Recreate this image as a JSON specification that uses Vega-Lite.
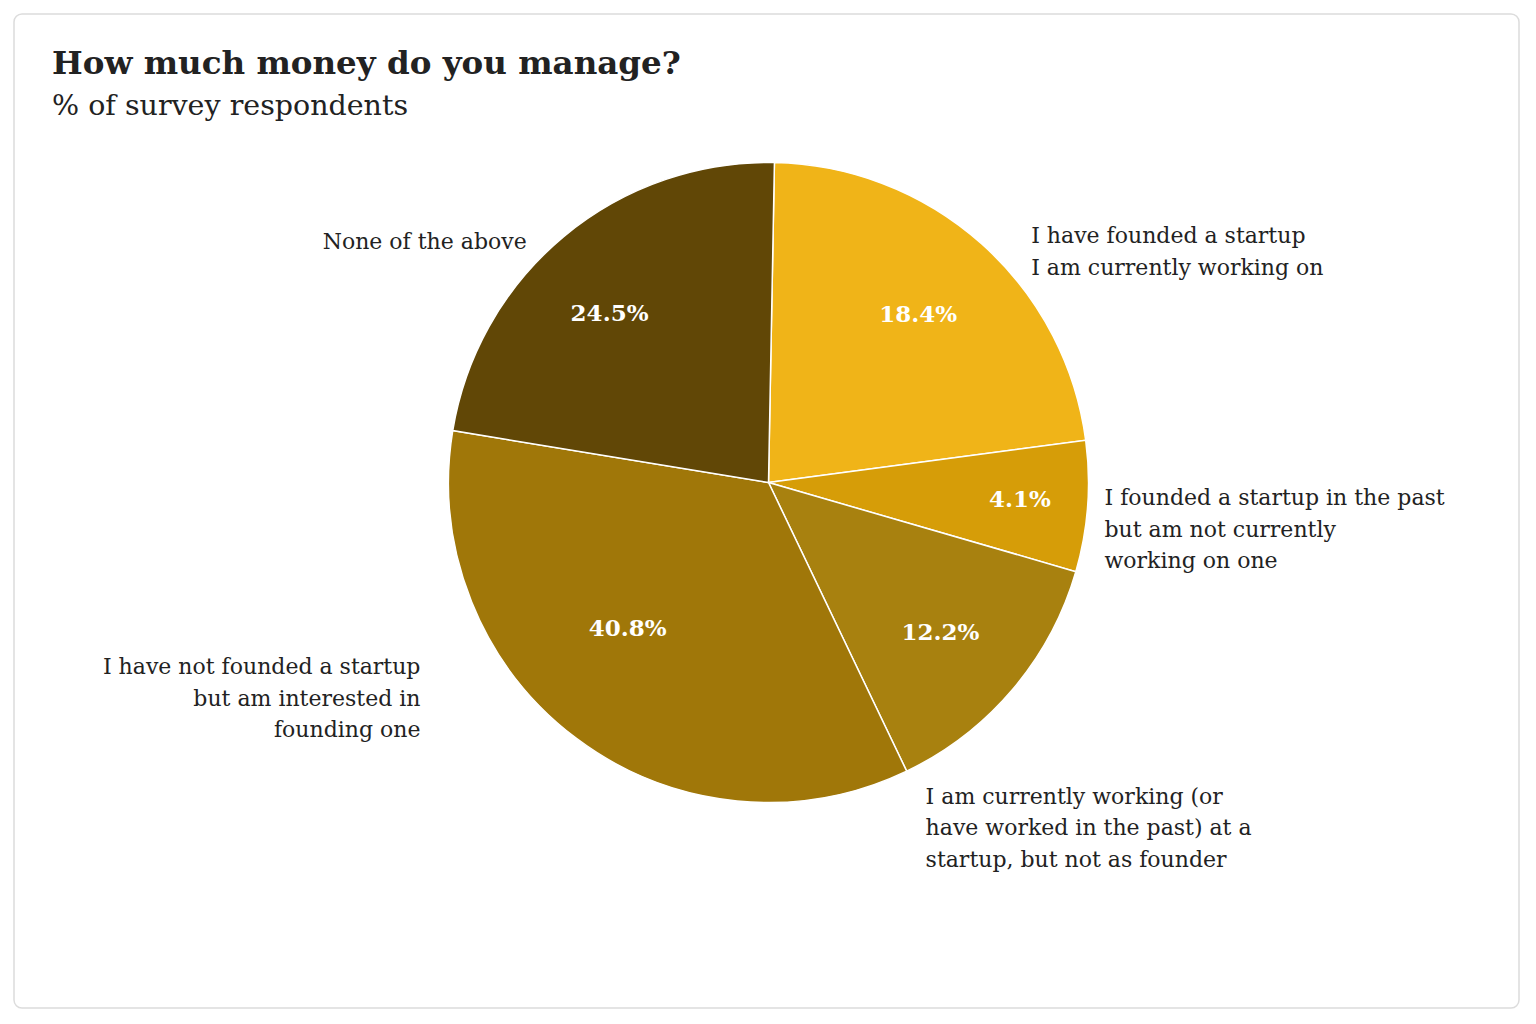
{
  "$schema": "https://vega.github.io/schema/vega-lite/v6.json",
  "width": 1536,
  "height": 1024,
  "autosize": {"type": "fit", "contains": "padding"},
  "padding": {"left": 13, "top": 13, "right": 16, "bottom": 15},
  "background": "#ffffff",
  "title": {
    "text": "How much money do you manage?",
    "subtitle": "% of survey respondents",
    "anchor": "start",
    "frame": "group",
    "offset": -107.5,
    "dx": 38,
    "font": "DejaVu Serif",
    "fontSize": 32.5,
    "fontWeight": "bold",
    "color": "#222222",
    "subtitleFont": "DejaVu Serif",
    "subtitleFontSize": 28.5,
    "subtitleColor": "#222222",
    "subtitlePadding": 12
  },
  "config": {
    "view": {"stroke": null},
    "text": {"font": "DejaVu Serif"}
  },
  "data": {
    "values": [
      {"rank": 1, "answer": "I have founded a startup I am currently working on", "lines": ["I have founded a startup", "I am currently working on"], "pct": 0.184, "slice": 22.6},
      {"rank": 2, "answer": "I founded a startup in the past but am not currently working on one", "lines": ["I founded a startup in the past", "but am not currently", "working on one"], "pct": 0.041, "slice": 6.6},
      {"rank": 3, "answer": "I am currently working (or have worked in the past) at a startup, but not as founder", "lines": ["I am currently working (or", "have worked in the past) at a", "startup, but not as founder"], "pct": 0.122, "slice": 13.4},
      {"rank": 4, "answer": "I have not founded a startup but am interested in founding one", "lines": ["I have not founded a startup", "but am interested in", "founding one"], "pct": 0.408, "slice": 34.7},
      {"rank": 5, "answer": "None of the above", "lines": ["None of the above"], "pct": 0.245, "slice": 22.7}
    ]
  },
  "encoding": {
    "theta": {"field": "slice", "type": "quantitative", "stack": true, "scale": {"range": [0.0185, 6.3017]}},
    "order": {"field": "rank", "type": "quantitative"}
  },
  "layer": [
    {
      "data": {"values": [{"frame": "card"}]},
      "mark": {"type": "rect", "filled": false, "stroke": "#dcdcdc", "strokeWidth": 1.5, "cornerRadius": 8},
      "encoding": {}
    },
    {
      "mark": {"type": "arc", "outerRadius": 320, "stroke": "#ffffff", "strokeWidth": 1.5, "xOffset": 2, "yOffset": -28.5},
      "encoding": {
        "color": {
          "field": "answer",
          "type": "nominal",
          "legend": null,
          "scale": {
            "domain": [
              "I have founded a startup I am currently working on",
              "I founded a startup in the past but am not currently working on one",
              "I am currently working (or have worked in the past) at a startup, but not as founder",
              "I have not founded a startup but am interested in founding one",
              "None of the above"
            ],
            "range": ["#f0b418", "#d69d08", "#a8810f", "#a07709", "#614706"]
          }
        }
      }
    },
    {
      "mark": {"type": "text", "radius": 228, "dx": -2, "dy": 3, "fontSize": 23, "fontWeight": "bold", "color": "#ffffff", "baseline": "middle", "align": "center", "xOffset": 2, "yOffset": -28.5},
      "encoding": {"text": {"condition": {"test": "datum.rank === 1 || datum.rank === 3", "field": "pct", "type": "quantitative", "format": ".1%"}, "value": ""}}
    },
    {
      "mark": {"type": "text", "radius": 228, "dx": 24, "fontSize": 23, "fontWeight": "bold", "color": "#ffffff", "baseline": "middle", "align": "center", "xOffset": 2, "yOffset": -28.5},
      "encoding": {"text": {"condition": {"test": "datum.rank === 2", "field": "pct", "type": "quantitative", "format": ".1%"}, "value": ""}}
    },
    {
      "mark": {"type": "text", "radius": 228, "dx": -4, "dy": -36, "fontSize": 23, "fontWeight": "bold", "color": "#ffffff", "baseline": "middle", "align": "center", "xOffset": 2, "yOffset": -28.5},
      "encoding": {"text": {"condition": {"test": "datum.rank === 4", "field": "pct", "type": "quantitative", "format": ".1%"}, "value": ""}}
    },
    {
      "mark": {"type": "text", "radius": 228, "dx": -13, "dy": 7, "fontSize": 23, "fontWeight": "bold", "color": "#ffffff", "baseline": "middle", "align": "center", "xOffset": 2, "yOffset": -28.5},
      "encoding": {"text": {"condition": {"test": "datum.rank === 5", "field": "pct", "type": "quantitative", "format": ".1%"}, "value": ""}}
    },
    {
      "mark": {"type": "text", "radius": 345, "align": "left", "baseline": "top", "dx": 33, "dy": 1, "fontSize": 22, "lineHeight": 31.5, "color": "#222222", "xOffset": 2, "yOffset": -28.5},
      "encoding": {"text": {"condition": {"test": "datum.rank === 1", "field": "lines"}, "value": ""}}
    },
    {
      "mark": {"type": "text", "radius": 345, "align": "left", "baseline": "top", "dx": -8, "dy": -20, "fontSize": 22, "lineHeight": 31.5, "color": "#222222", "xOffset": 2, "yOffset": -28.5},
      "encoding": {"text": {"condition": {"test": "datum.rank === 2", "field": "lines"}, "value": ""}}
    },
    {
      "mark": {"type": "text", "radius": 345, "align": "left", "baseline": "top", "dx": -106, "dy": 81, "fontSize": 22, "lineHeight": 31.5, "color": "#222222", "xOffset": 2, "yOffset": -28.5},
      "encoding": {"text": {"condition": {"test": "datum.rank === 3", "field": "lines"}, "value": ""}}
    },
    {
      "mark": {"type": "text", "radius": 345, "align": "right", "baseline": "top", "dx": -141, "dy": -101, "fontSize": 22, "lineHeight": 31.5, "color": "#222222", "xOffset": 2, "yOffset": -28.5},
      "encoding": {"text": {"condition": {"test": "datum.rank === 4", "field": "lines"}, "value": ""}}
    },
    {
      "mark": {"type": "text", "radius": 345, "align": "right", "baseline": "top", "dx": -21, "dy": 15, "fontSize": 22, "lineHeight": 31.5, "color": "#222222", "xOffset": 2, "yOffset": -28.5},
      "encoding": {"text": {"condition": {"test": "datum.rank === 5", "field": "lines"}, "value": ""}}
    }
  ]
}
